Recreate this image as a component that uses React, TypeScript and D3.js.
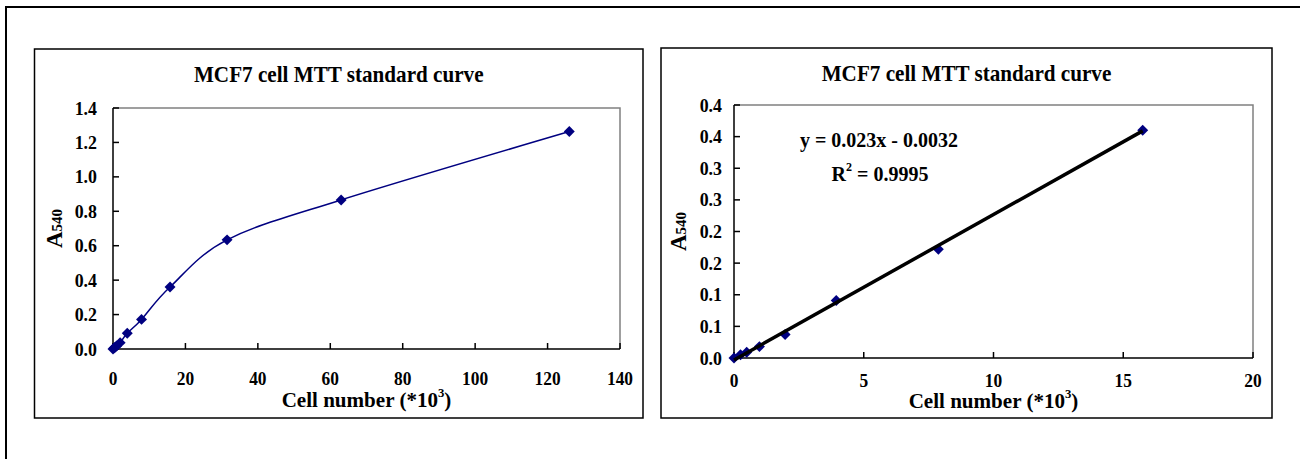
import React from 'react';
import * as d3 from 'd3';

// Serial two-fold dilution of MCF7 cells (*10^3) and the measured absorbance at 540 nm
const cellNumbers = [0, 0.25, 0.49, 0.98, 1.97, 3.94, 7.875, 15.75, 31.5, 63, 126];
const absorbance = [0, 0.005, 0.009, 0.018, 0.037, 0.091, 0.172, 0.36, 0.634, 0.866, 1.263];

const chartTitle = 'MCF7 cell MTT standard curve';

// Full range panel
const fullXDomain = [0, 140];
const fullYDomain = [0, 1.4];
const fullXTicks = [0, 20, 40, 60, 80, 100, 120, 140];
const fullYTicks = [0, 0.2, 0.4, 0.6, 0.8, 1.0, 1.2, 1.4];

// Linear range panel
const linearXDomain = [0, 20];
const linearYDomain = [0, 0.4];
const linearXTicks = [0, 5, 10, 15, 20];
const linearYTicks = [0, 0.05, 0.1, 0.15, 0.2, 0.25, 0.3, 0.35, 0.4];
const linearYTickLabels = ['0.0', '0.1', '0.1', '0.2', '0.2', '0.3', '0.3', '0.4', '0.4'];

// Least-squares fit over the linear range
const fitSlope = 0.023;
const fitIntercept = -0.0032;
const fitR2 = 0.9995;

const serif = "'Liberation Serif', 'Times New Roman', serif";
const navy = '#000080';

type Box = { x0: number; y0: number; x1: number; y1: number };

type PanelProps = {
  frame: Box;
  plot: Box;
  xDomain: number[];
  yDomain: number[];
  xTicks: number[];
  yTicks: number[];
  yTickLabels: string[];
  titleBaseline: number;
  xLabelBaseline: number;
  xTitleBaseline: number;
  yLabelRight: number;
  yTitleX: number;
  xs: number[];
  ys: number[];
  smooth: boolean;
  fit?: boolean;
};

const diamond = d3.symbol(d3.symbolSquare, 60)() as string;

// Bold serif label, slightly narrowed horizontally
function Label({
  x,
  y,
  size,
  anchor,
  sx = 0.94,
  children,
}: {
  x: number;
  y: number;
  size: number;
  anchor: string;
  sx?: number;
  children: React.ReactNode;
}) {
  return (
    <text
      transform={`translate(${x},${y}) scale(${sx},1)`}
      textAnchor={anchor}
      fontFamily={serif}
      fontWeight="bold"
      fontSize={size}
    >
      {children}
    </text>
  );
}

function Panel(p: PanelProps) {
  const x = d3.scaleLinear().domain(p.xDomain).range([p.plot.x0, p.plot.x1]);
  const y = d3.scaleLinear().domain(p.yDomain).range([p.plot.y1, p.plot.y0]);
  const pts: [number, number][] = p.xs.map((v, i) => [v, p.ys[i]]);
  const line = d3
    .line<[number, number]>()
    .x((d) => x(d[0]))
    .y((d) => y(d[1]))
    .curve(d3.curveCardinal.tension(0));
  const cx = (p.frame.x0 + p.frame.x1) / 2;
  const px = (p.plot.x0 + p.plot.x1) / 2;
  const py = (p.plot.y0 + p.plot.y1) / 2;
  const fitX0 = d3.min(p.xs) as number;
  const fitX1 = d3.max(p.xs) as number;

  return (
    <g>
      <rect
        x={p.frame.x0}
        y={p.frame.y0}
        width={p.frame.x1 - p.frame.x0}
        height={p.frame.y1 - p.frame.y0}
        fill="#fff"
        stroke="#000"
        strokeWidth={1.5}
      />
      <Label x={cx} y={p.titleBaseline} size={23} anchor="middle" sx={0.92}>
        {chartTitle}
      </Label>
      {/* plot area border */}
      <path
        d={`M${p.plot.x0},${p.plot.y0}H${p.plot.x1}V${p.plot.y1}`}
        fill="none"
        stroke="#808080"
        strokeWidth={1.5}
      />
      {/* axes */}
      <path
        d={`M${p.plot.x0},${p.plot.y0}V${p.plot.y1}H${p.plot.x1}`}
        fill="none"
        stroke="#000"
        strokeWidth={1.5}
      />
      {p.yTicks.map((t, i) => (
        <g key={'y' + i}>
          <line x1={p.plot.x0} x2={p.plot.x0 + 6} y1={y(t)} y2={y(t)} stroke="#000" strokeWidth={1.5} />
          <Label x={p.yLabelRight} y={y(t) + 6.5} size={19} anchor="end">
            {p.yTickLabels[i]}
          </Label>
        </g>
      ))}
      {p.xTicks.map((t, i) => (
        <g key={'x' + i}>
          <line x1={x(t)} x2={x(t)} y1={p.plot.y1} y2={p.plot.y1 - 6} stroke="#000" strokeWidth={1.5} />
          <Label x={x(t)} y={p.xLabelBaseline} size={18.5} anchor="middle">
            {t}
          </Label>
        </g>
      ))}
      <Label x={px} y={p.xTitleBaseline} size={21.5} anchor="middle" sx={0.98}>
        Cell number (*10
        <tspan fontSize={13} dy={-10}>
          3
        </tspan>
        <tspan dy={10}>)</tspan>
      </Label>
      <text
        transform={`translate(${p.yTitleX},${py}) rotate(-90)`}
        textAnchor="middle"
        fontFamily={serif}
        fontWeight="bold"
      >
        <tspan fontSize={23}>A</tspan>
        <tspan fontSize={15}>540</tspan>
      </text>
      {p.smooth && <path d={line(pts) as string} fill="none" stroke={navy} strokeWidth={1.5} />}
      {pts.map((d, i) => (
        <path key={'m' + i} d={diamond} transform={`translate(${x(d[0])},${y(d[1])}) rotate(45)`} fill={navy} />
      ))}
      {p.fit && (
        <g>
          <line
            x1={x(fitX0)}
            y1={y(fitSlope * fitX0 + fitIntercept)}
            x2={x(fitX1)}
            y2={y(fitSlope * fitX1 + fitIntercept)}
            stroke="#000"
            strokeWidth={3.5}
          />
          <Label x={879} y={147} size={20} anchor="middle" sx={1}>
            {`y = ${fitSlope}x - ${Math.abs(fitIntercept)}`}
          </Label>
          <Label x={880} y={181} size={20} anchor="middle" sx={1}>
            R
            <tspan fontSize={12} dy={-10}>
              2
            </tspan>
            <tspan dy={10}>{` = ${fitR2}`}</tspan>
          </Label>
        </g>
      )}
    </g>
  );
}

export default function App() {
  const linearIdx = cellNumbers.map((v, i) => i).filter((i) => cellNumbers[i] <= linearXDomain[1]);
  const linearXs = linearIdx.map((i) => cellNumbers[i]);
  const linearYs = linearIdx.map((i) => absorbance[i]);
  const fmt = d3.format('.1f');

  return (
    <svg
      width={1300}
      height={459}
      style={{ position: 'absolute', left: 0, top: 0, background: '#fff' }}
    >
      <rect x={0} y={0} width={1300} height={459} fill="#fff" />
      <path d="M6,459V7H1300" fill="none" stroke="#000" strokeWidth={2} />
      <Panel
        frame={{ x0: 34.5, y0: 49, x1: 643, y1: 418 }}
        plot={{ x0: 113, y0: 108, x1: 620, y1: 349 }}
        xDomain={fullXDomain}
        yDomain={fullYDomain}
        xTicks={fullXTicks}
        yTicks={fullYTicks}
        yTickLabels={fullYTicks.map((t) => fmt(t))}
        titleBaseline={81.5}
        xLabelBaseline={384.5}
        xTitleBaseline={406.5}
        yLabelRight={97}
        yTitleX={62}
        xs={cellNumbers}
        ys={absorbance}
        smooth={true}
      />
      <Panel
        frame={{ x0: 661, y0: 48, x1: 1272, y1: 418 }}
        plot={{ x0: 734, y0: 105, x1: 1253, y1: 358 }}
        xDomain={linearXDomain}
        yDomain={linearYDomain}
        xTicks={linearXTicks}
        yTicks={linearYTicks}
        yTickLabels={linearYTickLabels}
        titleBaseline={80.5}
        xLabelBaseline={387}
        xTitleBaseline={408}
        yLabelRight={722}
        yTitleX={686}
        xs={linearXs}
        ys={linearYs}
        smooth={false}
        fit={true}
      />
    </svg>
  );
}
